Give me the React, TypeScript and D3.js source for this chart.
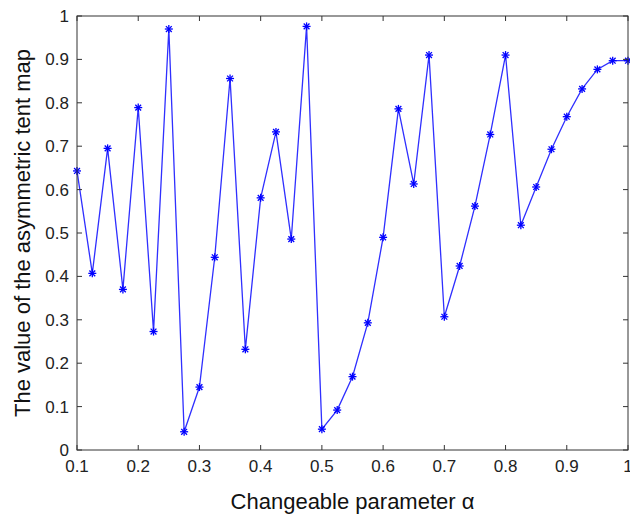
import React from "react";
import * as d3 from "d3";

const alphaValues: number[] = [
  0.1, 0.125, 0.15, 0.175, 0.2, 0.225, 0.25, 0.275, 0.3, 0.325, 0.35, 0.375,
  0.4, 0.425, 0.45, 0.475, 0.5, 0.525, 0.55, 0.575, 0.6, 0.625, 0.65, 0.675,
  0.7, 0.725, 0.75, 0.775, 0.8, 0.825, 0.85, 0.875, 0.9, 0.925, 0.95, 0.975, 1.0,
];
const tentValues: number[] = [
  0.643, 0.407, 0.695, 0.37, 0.789, 0.273, 0.97, 0.042, 0.145, 0.444, 0.856, 0.232,
  0.581, 0.733, 0.486, 0.976, 0.048, 0.092, 0.169, 0.293, 0.49, 0.786, 0.613, 0.91,
  0.307, 0.424, 0.562, 0.727, 0.91, 0.518, 0.606, 0.693, 0.768, 0.832, 0.877, 0.897, 0.897,
];
const xTicks: number[] = [0.1, 0.2, 0.3, 0.4, 0.5, 0.6, 0.7, 0.8, 0.9, 1];
const yTicks: number[] = [0, 0.1, 0.2, 0.3, 0.4, 0.5, 0.6, 0.7, 0.8, 0.9, 1];
const xTitle = "Changeable parameter \u03b1";
const yTitle = "The value of the asymmetric tent map";

const W = 630;
const H = 515;
const L = 77;
const R = 628;
const T = 16;
const B = 450;
const FONT = "'Liberation Sans', Arial, Helvetica, sans-serif";

export default function App() {
  const x = d3.scaleLinear().domain([0.1, 1]).range([L, R]);
  const y = d3.scaleLinear().domain([0, 1]).range([B, T]);
  const pts = alphaValues.map((a, i) => [a, tentValues[i]] as [number, number]);
  const line = d3
    .line<[number, number]>()
    .x((d) => x(d[0]))
    .y((d) => y(d[1]));
  const fmt = (v: number) => (v === 0 || v === 1 ? String(v) : v.toFixed(1));
  const tl = 5;
  const ms = 4;
  const md = 2.9;
  return (
    <svg
      width={W}
      height={H}
      style={{ position: "absolute", left: 0, top: 0, background: "#fff" }}
    >
      <rect x={0} y={0} width={W} height={H} fill="#fff" />
      <path d={line(pts) || ""} fill="none" stroke="#2f2fff" strokeWidth={1.3} />
      {pts.map((p, i) => {
        const cx = x(p[0]);
        const cy = y(p[1]);
        return (
          <g key={i} stroke="#0000ff" strokeWidth={1.3}>
            <line x1={cx - ms} y1={cy} x2={cx + ms} y2={cy} />
            <line x1={cx} y1={cy - ms} x2={cx} y2={cy + ms} />
            <line x1={cx - md} y1={cy - md} x2={cx + md} y2={cy + md} />
            <line x1={cx - md} y1={cy + md} x2={cx + md} y2={cy - md} />
          </g>
        );
      })}
      <rect x={L} y={T} width={R - L} height={B - T} fill="none" stroke="#333" strokeWidth={1} />
      {xTicks.map((t) => (
        <g key={"x" + t}>
          <line x1={x(t)} y1={B} x2={x(t)} y2={B - tl} stroke="#333" />
          <line x1={x(t)} y1={T} x2={x(t)} y2={T + tl} stroke="#333" />
          <text
            x={x(t)}
            y={B + 22}
            textAnchor="middle"
            fontFamily={FONT}
            fontSize={17}
            fill="#222"
          >
            {fmt(t)}
          </text>
        </g>
      ))}
      {yTicks.map((t) => (
        <g key={"y" + t}>
          <line x1={L} y1={y(t)} x2={L + tl} y2={y(t)} stroke="#333" />
          <line x1={R} y1={y(t)} x2={R - tl} y2={y(t)} stroke="#333" />
          <text
            x={L - 8}
            y={y(t)}
            dy="0.35em"
            textAnchor="end"
            fontFamily={FONT}
            fontSize={17}
            fill="#222"
          >
            {fmt(t)}
          </text>
        </g>
      ))}
      <text
        x={(L + R) / 2}
        y={509}
        textAnchor="middle"
        fontFamily={FONT}
        fontSize={22}
        fill="#111"
      >
        {xTitle}
      </text>
      <text
        transform={`translate(30,${(T + B) / 2}) rotate(-90)`}
        textAnchor="middle"
        fontFamily={FONT}
        fontSize={22}
        fill="#111"
      >
        {yTitle}
      </text>
    </svg>
  );
}
